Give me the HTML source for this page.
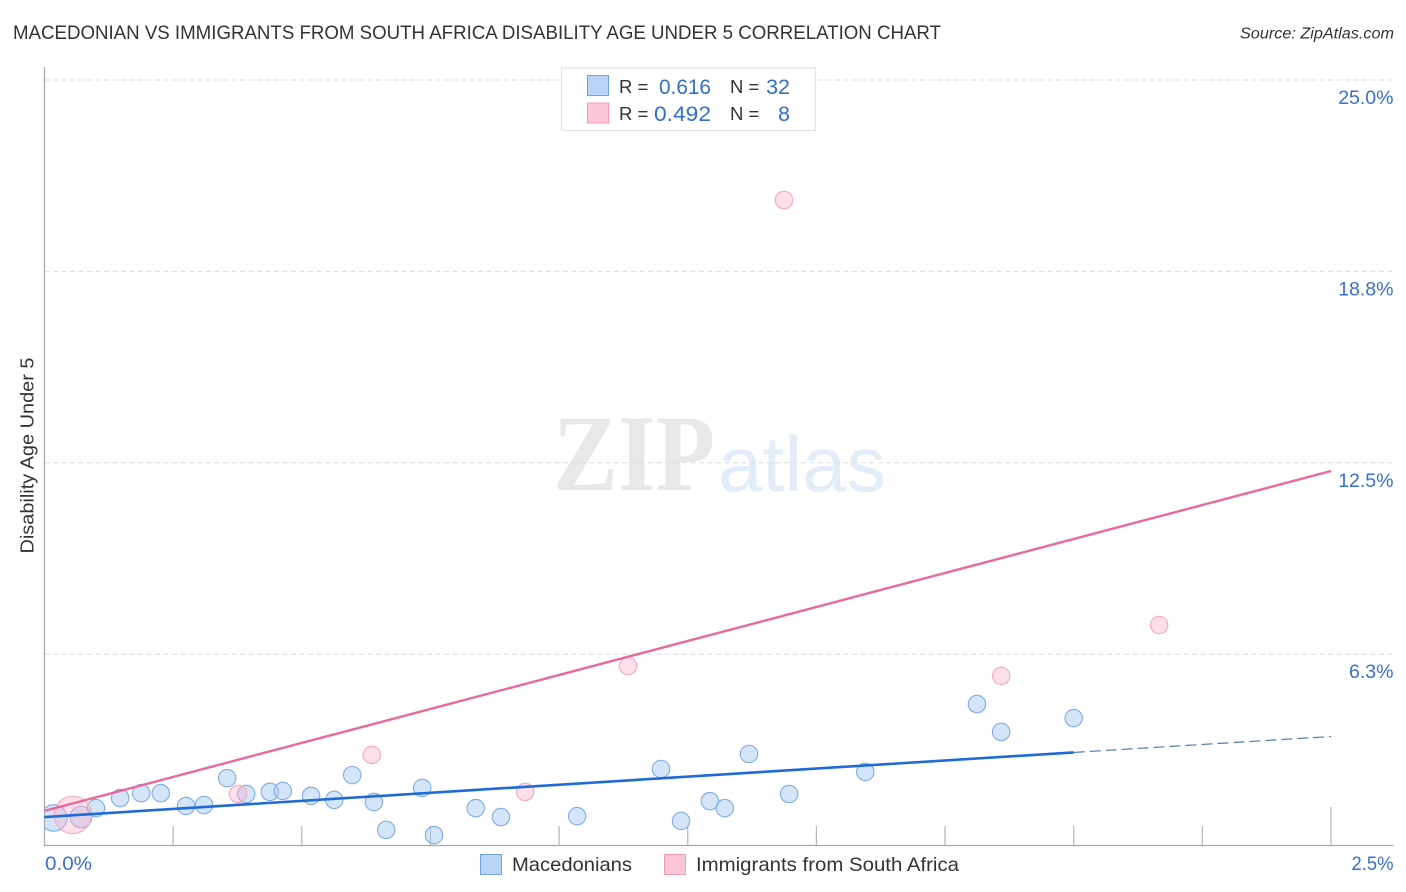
<!DOCTYPE html>
<html lang="en">
<head>
<meta charset="utf-8">
<title>Macedonian vs Immigrants from South Africa Disability Age Under 5 Correlation Chart</title>
<style>
html,body{margin:0;padding:0;background:#fff;width:1406px;height:892px;overflow:hidden}
svg{display:block;font-family:"Liberation Sans",sans-serif}
</style>
</head>
<body>
<svg id="chart" xmlns="http://www.w3.org/2000/svg" width="1406" height="892" viewBox="0 0 1406 892">
  <defs>
    <clipPath id="plot-clip"><rect x="44.5" y="68" width="1349" height="777.5"/></clipPath>
  </defs>
  <text x="13" y="39" font-size="19.5" fill="#333" textLength="928" lengthAdjust="spacingAndGlyphs">MACEDONIAN VS IMMIGRANTS FROM SOUTH AFRICA DISABILITY AGE UNDER 5 CORRELATION CHART</text>
  <text x="1394" y="38.5" font-size="15.5" font-style="italic" fill="#333" text-anchor="end" textLength="154" lengthAdjust="spacingAndGlyphs">Source: ZipAtlas.com</text>

  <g>
    <text x="553" y="490" font-family="'Liberation Serif',serif" font-size="109" font-weight="bold" fill="#e8e8e8" textLength="162" lengthAdjust="spacingAndGlyphs">ZIP</text>
    <text x="718" y="491" font-size="78" fill="#e3ecf9" textLength="168" lengthAdjust="spacingAndGlyphs">atlas</text>
  </g>

  <g id="grid"></g>
  <g id="axes"></g>
  <g id="marks" clip-path="url(#plot-clip)"></g>
  <g id="trends"></g>
  <g id="ylabels"></g>

  <text x="45" y="870" font-size="19.5" fill="#3a6fd0" textLength="47" lengthAdjust="spacingAndGlyphs">0.0%</text>
  <text x="1393.5" y="870" font-size="19.5" fill="#3a6fd0" text-anchor="end" textLength="42" lengthAdjust="spacingAndGlyphs">2.5%</text>
  <text transform="translate(33.5,455.5) rotate(-90)" font-size="18.5" fill="#333" text-anchor="middle" textLength="196" lengthAdjust="spacingAndGlyphs">Disability Age Under 5</text>

  <g>
    <rect x="561.5" y="68" width="254" height="62.5" fill="#fff" stroke="#e2e2e2" stroke-width="1.2"/>
    <rect x="587.5" y="75.5" width="21" height="20" fill="#b9d4f6" stroke="#6fa3dc" stroke-width="1"/>
    <rect x="587.5" y="103" width="21" height="20" fill="#fbc6d8" stroke="#f09bb8" stroke-width="1"/>
    <g font-size="18.5" fill="#333">
      <text x="619" y="93">R =</text>
      <text x="730" y="93">N =</text>
      <text x="619" y="120">R =</text>
      <text x="730" y="120">N =</text>
    </g>
    <g font-size="21.5" fill="#2f6fd1" text-anchor="end">
      <text x="711" y="94" textLength="52" lengthAdjust="spacingAndGlyphs">0.616</text>
      <text x="790" y="94">32</text>
      <text x="711" y="121" textLength="57" lengthAdjust="spacingAndGlyphs">0.492</text>
      <text x="790" y="121">8</text>
    </g>
  </g>

  <g>
    <rect x="480.5" y="854.5" width="21" height="20" fill="#b9d4f6" stroke="#6fa3dc" stroke-width="1"/>
    <text x="512" y="871" font-size="19.5" fill="#333" textLength="120" lengthAdjust="spacingAndGlyphs">Macedonians</text>
    <rect x="664.5" y="854.5" width="21" height="20" fill="#fbc6d8" stroke="#f09bb8" stroke-width="1"/>
    <text x="696" y="871" font-size="19.5" fill="#333" textLength="263" lengthAdjust="spacingAndGlyphs">Immigrants from South Africa</text>
  </g>
</svg>
<script>
var yTickValues = [6.25, 12.5, 18.75, 25];
var yTickLabels = ["6.3%", "12.5%", "18.8%", "25.0%"];
var xTickValues = [0.25, 0.5, 0.75, 1, 1.25, 1.5, 1.75, 2, 2.25, 2.5];

var macedonianX = [0.018, 0.071, 0.100, 0.147, 0.188, 0.226, 0.275, 0.310, 0.355, 0.392, 0.438, 0.463, 0.518, 0.563, 0.598, 0.640, 0.664, 0.734, 0.757, 0.838, 0.887, 1.035, 1.198, 1.237, 1.293, 1.322, 1.369, 1.447, 1.595, 1.812, 1.859, 2.000];
var macedonianY = [0.90, 0.93, 1.22, 1.55, 1.71, 1.71, 1.29, 1.32, 2.20, 1.68, 1.75, 1.78, 1.62, 1.49, 2.30, 1.42, 0.51, 1.88, 0.34, 1.22, 0.93, 0.96, 2.50, 0.80, 1.45, 1.22, 2.99, 1.68, 2.40, 4.62, 3.71, 4.16];
var macedonianCount = [3, 2, 1, 1, 1, 1, 1, 1, 1, 1, 1, 1, 1, 1, 1, 1, 1, 1, 1, 1, 1, 1, 1, 1, 1, 1, 1, 1, 1, 1, 1, 1];

var immigrantX = [0.055, 0.376, 0.636, 0.934, 1.134, 1.437, 1.859, 2.166];
var immigrantY = [1.00, 1.68, 2.96, 1.75, 5.86, 21.08, 5.54, 7.20];
var immigrantCount = [6, 1, 1, 1, 1, 1, 1, 1];

var macedonianTrendX = [0, 2.0];
var macedonianTrendY = [0.93, 3.04];
var macedonianForecastX = [2.0, 2.5];
var macedonianForecastY = [3.04, 3.56];
var immigrantTrendX = [0, 2.5];
var immigrantTrendY = [1.13, 12.23];

var NS = "http://www.w3.org/2000/svg";
function xScale(v) { return 44.5 + v * 514.6; }
function yScale(v) { return 845.5 - v * 30.62; }
function radiusFor(c, base) { return base * Math.pow(c, 0.5) * (c > 1 ? 0.88 : 1); }
function make(tag, parent, attrs) {
  var el = document.createElementNS(NS, tag);
  for (var k in attrs) el.setAttribute(k, attrs[k]);
  parent.appendChild(el);
  return el;
}

var grid = document.getElementById("grid");
var axes = document.getElementById("axes");
var marks = document.getElementById("marks");
var trends = document.getElementById("trends");
var ylabels = document.getElementById("ylabels");

yTickValues.forEach(function (v, i) {
  var line = make("line", grid, {x1: 44.5, x2: 1393, y1: yScale(v), y2: yScale(v), stroke: "#dcdcdc", "stroke-width": 1, "stroke-dasharray": "5 3.5"});
  
  
  var label = make("text", ylabels, {x: 1393.5, y: yScale(v) + 24, "font-size": 19.5, fill: "#3a6fd0", "text-anchor": "end"});
  label.textContent = yTickLabels[i];
  
  
});

var yAxisLine = make("line", axes, {x1: 44.5, x2: 44.5, y1: 67, y2: 846, stroke: "#aaaaaa", "stroke-width": 1.3});


var xAxisLine = make("line", axes, {x1: 44, x2: 1393.5, y1: 845.5, y2: 845.5, stroke: "#aaaaaa", "stroke-width": 1.3});



xTickValues.forEach(function (v, i) {
  var top = i === xTickValues.length - 1 ? 807 : 826;
  var tick = make("line", axes, {x1: xScale(v), x2: xScale(v), y1: top, y2: 845.5, stroke: "#b4b4b4", "stroke-width": 1.2});
  
  
});

macedonianX.forEach(function (v, i) {
  var c = make("circle", marks, {cx: xScale(v), cy: yScale(macedonianY[i]), r: radiusFor(macedonianCount[i], 8.7), fill: "rgba(160,198,243,0.45)", stroke: "#7fabe2", "stroke-width": 1.1});
  
  
});
immigrantX.forEach(function (v, i) {
  var c = make("circle", marks, {cx: xScale(v), cy: yScale(immigrantY[i]), r: radiusFor(immigrantCount[i], 8.7), fill: "rgba(249,178,203,0.42)", stroke: "#f2a9c2", "stroke-width": 1.1});
  
  
});

function trend(xs, ys, attrs) {
  var a = {x1: xScale(xs[0]), y1: yScale(ys[0]), x2: xScale(xs[1]), y2: yScale(ys[1])};
  for (var k in attrs) a[k] = attrs[k];
  return make("line", trends, a);
}
var pinkLine = trend(immigrantTrendX, immigrantTrendY, {stroke: "#e8699a", "stroke-width": 2.4});


var blueLine = trend(macedonianTrendX, macedonianTrendY, {stroke: "#1f6bd6", "stroke-width": 2.6});


var blueDash = trend(macedonianForecastX, macedonianForecastY, {stroke: "#4a7fc4", "stroke-width": 1.2, "stroke-dasharray": "11 5"});


</script>
</body>
</html>
